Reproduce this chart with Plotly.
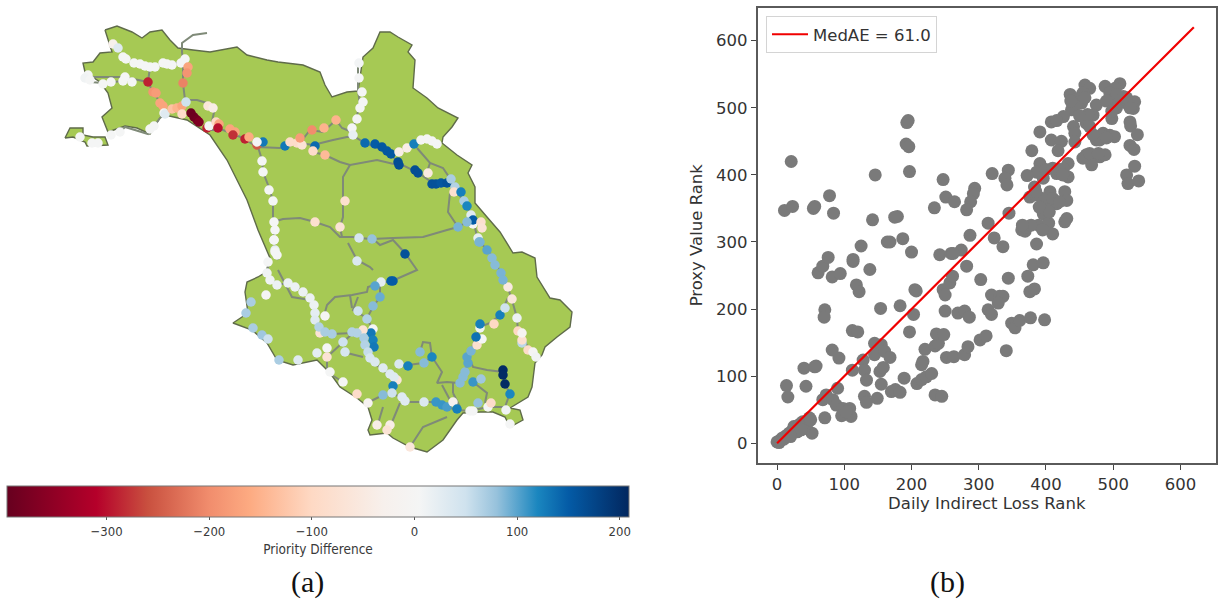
import plotly.graph_objects as go

# ---------- panel (a): map data (map units) ----------
boundary = [(105,30),(117,26),(132,32),(142,38),(150,32),(162,30),(170,40),(178,48),(193,50),(210,52),(237,47),(247,55),(267,60),(278,62),(303,65),(320,72),(325,85),(332,97),(347,92),(358,91),(363,57),(373,48),(380,32),(390,32),(398,37),(412,45),(408,52),(415,60),(413,88),(427,98),(438,108),(458,118),(452,127),(443,137),(442,143),(457,155),(472,165),(468,173),(475,187),(475,203),(487,217),(500,232),(513,253),(522,252),(535,258),(537,277),(550,298),(560,300),(572,312),(570,327),(557,337),(545,347),(542,355),(535,363),(532,387),(528,397),(510,408),(520,410),(523,420),(510,427),(505,417),(493,412),(480,412),(463,413),(457,420),(443,440),(427,452),(410,447),(393,438),(387,433),(370,435),(368,430),(372,420),(368,407),(357,398),(340,387),(330,373),(317,360),(293,365),(277,360),(267,343),(252,330),(233,323),(248,313),(245,292),(247,282),(258,277),(266,272),(270,258),(265,247),(258,230),(247,200),(227,160),(210,135),(187,120),(165,115),(160,118),(150,134),(137,128),(125,126),(108,132),(102,117),(112,108),(108,93),(100,82),(85,72),(83,63),(93,62),(100,53),(112,52),(105,30)]
island = [(65,138),(70,128),(83,128),(83,135),(93,137),(105,137),(108,145),(87,146),(85,142),(73,137),(65,138)]
roads = [
 [(182,52),(182,43),(193,35),(207,33)],
 [(182,52),(183,62),(183,83),(185,100),(197,100),(207,103),(215,108),(213,118),(210,130),(223,130),(243,138),(257,147),(280,148),(300,143),(313,145),(333,140),(347,137),(355,137),(365,143),(390,153),(398,163),(417,172),(433,183),(448,183),(455,190),(467,205),(473,220),(478,240),(490,253),(503,277),(508,288),(512,300),(517,318),(518,332),(530,350),(535,357)],
 [(85,77),(123,77),(148,82),(153,92),(162,105),(165,113),(160,118)],
 [(90,82),(103,83),(123,81)],
 [(120,132),(125,127),(148,134),(160,118)],
 [(123,58),(150,67),(183,62)],
 [(150,67),(148,82)],
 [(300,143),(310,130),(323,132),(336,120),(342,128),(352,132)],
 [(313,152),(325,155),(340,162),(350,165),(377,160),(398,165)],
 [(350,165),(343,177),(343,200),(343,217),(340,227),(342,237)],
 [(315,222),(330,227),(340,237),(353,237),(358,238),(372,239),(393,238),(423,237),(447,230),(458,227),(467,222),(473,220)],
 [(450,193),(448,212),(458,227)],
 [(417,148),(430,163),(443,168),(453,183)],
 [(430,163),(427,172)],
 [(400,152),(407,148),(415,144),(423,139),(437,143)],
 [(358,60),(358,90),(360,105),(356,118),(352,132)],
 [(258,147),(262,160),(263,172),(270,190),(273,202),(273,222),(274,230),(274,240),(275,252),(278,260)],
 [(273,222),(283,219),(300,218),(315,222)],
 [(348,243),(357,260),(370,267),(373,270)],
 [(372,238),(380,245),(393,240),(405,253),(417,270),(400,277),(392,281),(380,283),(375,285),(368,287),(367,292),(352,295),(335,297),(327,305),(324,316)],
 [(270,258),(267,273),(277,285),(288,283),(305,292),(313,305),(315,318),(320,327),(332,334),(353,333),(363,337),(367,350),(373,362),(383,370),(392,377),(393,387),(392,393),(400,397),(407,402),(423,402),(437,402),(447,407),(457,410),(470,411),(488,407),(505,407),(510,393),(505,385),(503,372),(487,370),(473,367),(470,360),(463,373),(458,383),(447,382),(437,383),(442,372),(432,357),(430,343),(423,342),(420,352)],
 [(480,327),(470,353)],
 [(508,298),(500,315),(490,323),(480,327)],
 [(400,365),(408,365),(423,363),(432,357)],
 [(367,403),(383,395),(392,393)],
 [(400,403),(390,427)],
 [(383,407),(377,427)],
 [(447,417),(423,427),(410,447)],
 [(327,347),(327,372),(343,382)],
 [(327,357),(343,342),(353,333)],
 [(343,352),(363,357)],
 [(278,270),(292,297),(310,300)],
 [(358,297),(353,310),(367,318),(373,330)],
 [(350,295),(352,308)],
 [(453,393),(460,407)],
 [(453,383),(453,393)],
 [(473,382),(487,393),(485,403)],
 [(442,385),(450,400)],
 [(380,282),(380,297),(373,307),(367,318)],
]
stations = [
 (113,44,-30),(118,48,30),(123,57,5),(126,59,5),(134,63,5),(140,64,5),(145,66,5),(150,67,5),(155,67,5),(163,63,5),(167,64,5),(172,65,5),(181,63,5),(185,59,5),
 (188,67,-170),(187,73,-190),(183,83,-210),(88,75,5),(85,78,10),(90,80,5),(103,84,5),(111,82,5),(123,81,5),(125,77,5),(132,82,5),
 (148,82,-290),(153,92,-190),(156,93,-180),(160,103,-170),(163,106,-170),(164,113,0),(165,114,30),
 (172,109,-130),(177,108,-150),(182,106,-170),(186,102,50),(182,114,-90),
 (191,113,-390),(194,117,-390),(197,120,-385),(199,122,-370),(207,128,-290),(209,126,0),(208,106,-60),(213,108,-40),
 (216,122,-100),(219,124,-170),(218,128,-300),(230,129,-170),(235,132,-170),(233,135,-280),(245,139,-290),(249,137,-160),
 (257,145,-250),(263,142,130),(257,142,0),(285,146,130),(290,142,-90),(297,143,-90),(302,145,-70),(300,138,-180),
 (315,146,140),(313,151,-90),(325,155,-140),(312,130,-200),(324,128,-150),(336,120,-150),
 (80,137,5),(92,143,5),(98,143,5),(111,135,5),(120,132,5),(150,129,5),(154,126,5),
 (262,161,5),(263,172,5),(269,190,5),(273,201,5),(274,222,5),(275,230,5),(274,240,5),(275,250,20),
 (315,222,-80),(345,201,-80),(340,227,-70),
 (352,128,5),(353,135,20),(357,119,0),(360,108,3),(363,102,3),(362,92,3),(359,78,5),(359,63,8),
 (365,143,140),(375,144,150),(382,147,155),(387,151,155),(391,154,155),(398,162,165),(399,165,165),(415,170,165),(418,173,165),
 (399,152,-40),(407,148,-40),(414,144,125),(421,140,0),(427,139,0),(432,141,0),(437,144,5),
 (428,173,-50),(432,184,160),(436,184,160),(441,183,155),(447,183,160),
 (451,179,70),(455,187,65),(454,192,-80),(461,192,125),(464,201,70),(467,206,120),(471,215,30),(473,224,5),(473,220,150),(467,222,85),(458,227,90),
 (481,222,-80),(482,228,-70),(359,238,40),(372,239,80),
 (405,254,160),(357,261,35),(391,281,150),(393,281,150),(381,282,25),(375,286,100),(380,297,95),(373,306,85),(358,311,50),(367,319,65),(373,329,0),(371,333,130),(373,340,125),(374,347,130),
 (325,316,0),
 (274,240,5),(275,252,5),(277,255,5),(268,262,5),(267,273,10),(270,280,10),(277,285,15),(288,283,15),(295,287,15),(303,292,15),(310,298,15),(314,305,15),(315,313,25),(315,320,30),(320,333,-70),(319,327,65),(325,332,70),(332,334,70),
 (266,295,0),(251,302,70),(246,313,70),(253,328,70),(262,335,75),(268,339,50),(279,360,70),(298,360,30),(317,353,25),(327,348,5),(327,357,-70),(330,372,5),(343,382,5),(357,394,-90),(368,403,-15),(377,425,-40),(390,425,-40),(387,430,-70),(410,447,-60),
 (343,342,50),(345,352,40),(363,330,-70),(352,332,65),(357,333,65),
 (364,338,70),(365,345,65),(368,352,55),(370,358,40),(375,362,35),(383,368,30),(390,374,30),(397,380,-60),(394,377,30),(393,386,125),(383,395,85),(392,393,50),(399,364,35),(408,366,125),(424,363,85),(432,357,120),(420,352,85),
 (402,397,30),(405,401,30),(424,402,35),(436,402,110),(442,405,110),(447,407,105),(453,402,-20),(457,409,125),(470,411,5),(473,411,5),(488,407,5),(478,403,80),(491,403,-90),(506,410,10),(510,424,5),
 (460,383,85),(463,377,85),(465,372,85),(468,363,100),(467,357,100),(471,351,90),(477,345,-80),(482,339,5),(476,337,135),(480,328,10),(480,324,125),(494,324,-100),(500,315,125),(505,308,50),
 (473,382,110),(481,379,75),(503,370,205),(503,375,205),(505,384,205),(510,394,120),
 (508,287,-50),(512,299,-60),(517,318,15),(518,331,-100),(522,343,60),(522,340,-80),(522,333,-10),(528,350,-90),(533,352,0),(536,357,10),
 (478,238,20),(480,242,90),(479,242,90),(487,250,100),(492,258,85),(495,265,85),(501,273,90),(503,280,90),
]
priority_ticks = [-300, -200, -100, 0, 100, 200]
priority_labels = ["\u2212300", "\u2212200", "\u2212100", "0", "100", "200"]
priority_min, priority_max = -397, 209
priority_colors = [(-397,"#67001f"),(-310,"#b5002a"),(-260,"#c9503f"),(-200,"#f18d6d"),(-160,"#fdab82"),(-100,"#fed9c4"),(-30,"#f7f0ec"),(5,"#f4f5f5"),(50,"#cfe2ee"),(80,"#97c2dc"),(120,"#1a86bf"),(150,"#045ba6"),(209,"#02275f")]

# ---------- panel (b): rank scatter ----------
ranks = [
 (14,86),(16,69),(40,112),(58,115),(56,114),(43,85),(71,38),(52,15),(71,199),(70,188),(82,139),(92,127),(90,82),(68,65),(73,72),(83,65),(88,57),(98,52),(108,52),(96,41),(110,40),(103,47),
 (112,109),(112,168),(120,166),(128,124),(130,109),(133,94),(130,70),(133,61),(149,67),(155,88),(153,107),(158,113),(145,149),(155,147),(145,132),(160,137),(168,128),(170,77),(176,80),(183,76),(189,97),(154,201),(183,205),(203,192),(197,166),(205,229),(207,227),(217,122),(215,117),(208,89),(215,95),(222,99),(230,104),(235,72),(245,70),(220,140),(235,145),(240,149),(237,163),(248,162),(252,128),(263,129),(279,132),(284,144),(250,197),(269,194),(279,197),(286,188),(247,229),(250,221),(257,239),(261,249),(282,264),(303,244),(319,221),(314,199),(319,192),(331,219),(336,219),(329,209),(344,246),(373,249),(376,226),(383,230),(302,154),(311,160),(341,138),(349,179),(354,172),(361,183),(377,187),(398,184),(381,266),(396,269),(61,254),(68,264),(82,248),(94,253),(113,271),(118,236),(122,226),(138,259),
 (0,2),(5,5),(8,8),(12,10),(15,12),(18,15),(22,18),(25,25),(28,20),(33,28),(30,17),(38,32),(40,22),(45,30),(48,38),(50,35),(36,20),(20,10),(10,6),(3,1),
 (21,420),(11,347),(23,353),(54,350),(56,353),(78,369),(84,343),(146,400),(193,478),(195,481),(192,446),(196,442),(197,405),(247,393),(251,367),(234,351),(142,333),(179,338),(175,337),(164,300),(168,300),(187,305),(200,285),(125,294),(76,277),(113,274),(242,281),(259,283),
 (458,534),(465,529),(455,522),(436,520),(448,514),(453,507),(488,532),(510,536),(503,529),(495,522),(500,512),(515,517),(520,507),(532,509),(530,499),(475,504),(470,489),(438,497),(426,487),(408,479),(416,481),(441,472),(443,462),(460,477),(465,472),(498,484),(525,479),(526,473),(536,460),(391,464),(408,452),(423,450),(443,449),(475,457),(485,462),(495,459),(502,457),(475,452),(525,444),(531,438),(379,436),(418,436),(460,430),(470,427),(480,427),(488,430),(468,415),(433,417),(426,409),(391,417),(386,404),(372,399),(416,402),(433,397),(320,402),(344,407),(339,395),(342,385),(532,413),(520,400),(522,387),(538,391),(294,380),(292,372),(264,360),(288,360),(282,348),(383,382),(376,367),(406,375),(428,375),(431,362),(416,357),(399,357),(396,342),(345,343),(314,328),(323,306),(287,310),(336,293),(386,297),(364,318),(369,316),(389,325),(404,328),(410,312),(428,330),(431,335),(274,288),(262,283),
 (455,425),(465,432),(478,432),(480,452),(490,455),(470,460),(445,505),(458,515),(462,490),(450,488),(437,510),(505,520),(510,510),(490,510),(505,500),(520,515),(525,500),(498,495),(400,408),(410,410),(420,408),(396,395),(425,400),(385,370),(395,365),(410,365),(420,360),(405,345),(385,375),(390,352),(370,322),(378,325),(395,318),(365,325),
]
line_x = [0, 620]
line_y = [0, 620]
rank_ticks = [0, 100, 200, 300, 400, 500, 600]

# ---------- figure ----------
W, H = 1221, 603
span = priority_max - priority_min
cscale = [[(v - priority_min) / span, c] for v, c in priority_colors]

def flat(polys):
    xs, ys = [], []
    for p in polys:
        xs += [q[0] for q in p] + [None]
        ys += [q[1] for q in p] + [None]
    return xs, ys

fig = go.Figure()
bx, by = flat([boundary, island])
fig.add_trace(go.Scatter(x=bx, y=by, mode="lines", fill="toself", fillcolor="#a6c954",
                         line=dict(color="#5f6b4a", width=1.4), showlegend=False, hoverinfo="skip"))
rx, ry = flat(roads)
fig.add_trace(go.Scatter(x=rx, y=ry, mode="lines", line=dict(color="#7f8a78", width=2),
                         showlegend=False, hoverinfo="skip"))
cbfont = "DejaVu Sans Condensed, DejaVu Sans"
fig.add_trace(go.Scatter(
    x=[s[0] for s in stations], y=[s[1] for s in stations], mode="markers", showlegend=False,
    marker=dict(size=9.5, color=[s[2] for s in stations], colorscale=cscale,
                cmin=priority_min, cmax=priority_max, line=dict(width=0),
                colorbar=dict(orientation="h", lenmode="pixels", len=622, thicknessmode="pixels",
                              thickness=31, x=318/W, xanchor="center", y=1-486/H, yanchor="top",
                              xpad=0, ypad=0, outlinecolor="#777777", outlinewidth=1,
                              tickvals=priority_ticks, ticktext=priority_labels,
                              ticks="outside", ticklen=3, tickcolor="#555555",
                              tickfont=dict(family=cbfont, size=13, color="#3a3a3a"),
                              title=dict(text="Priority Difference", side="bottom",
                                         font=dict(family=cbfont, size=13.5, color="#3a3a3a"))))))

fig.add_trace(go.Scatter(x=[r[0] for r in ranks], y=[r[1] for r in ranks], mode="markers",
                         xaxis="x2", yaxis="y2", showlegend=False,
                         marker=dict(size=13, color="#7a7a7a", line=dict(width=0))))
fig.add_trace(go.Scatter(x=line_x, y=line_y, mode="lines", xaxis="x2", yaxis="y2",
                         name="MedAE = 61.0", line=dict(color="#f00000", width=2.2)))

axfont = dict(family="DejaVu Sans", size=16.5, color="#333333")
fig.update_layout(
    width=W, height=H, margin=dict(l=0, r=0, t=0, b=0), paper_bgcolor="white", plot_bgcolor="white",
    xaxis=dict(domain=[0, 1], range=[0, W], visible=False, fixedrange=True),
    yaxis=dict(domain=[0, 1], range=[H, 0], visible=False, fixedrange=True),
    xaxis2=dict(domain=[757.6/W, 1216/W], range=[-29, 653], anchor="y2", tickvals=rank_ticks,
                showgrid=False, zeroline=False, showline=True, mirror=True, linecolor="#5a5a5a", linewidth=1.5,
                ticks="outside", ticklen=5, tickcolor="#444444", tickfont=axfont,
                title=dict(text="Daily Indirect Loss Rank", font=axfont, standoff=5)),
    yaxis2=dict(domain=[1-463/H, 1-7.5/H], range=[-29.4, 649.5], anchor="x2", tickvals=rank_ticks,
                showgrid=False, zeroline=False, showline=True, mirror=True, linecolor="#5a5a5a", linewidth=1.5,
                ticks="outside", ticklen=5, tickcolor="#444444", tickfont=axfont,
                title=dict(text="Proxy Value Rank", font=axfont, standoff=9)),
    legend=dict(x=766/W, y=1-16/H, xanchor="left", yanchor="top", bgcolor="rgba(255,255,255,0.8)",
                bordercolor="#d4d4d4", borderwidth=1, font=axfont, itemwidth=36),
    annotations=[
        dict(text="(a)", x=307/W, y=1-582/H, xref="paper", yref="paper", showarrow=False,
             xanchor="center", yanchor="middle",
             font=dict(family="Liberation Serif", size=30, color="#111111")),
        dict(text="(b)", x=947/W, y=1-582/H, xref="paper", yref="paper", showarrow=False,
             xanchor="center", yanchor="middle",
             font=dict(family="Liberation Serif", size=30, color="#111111")),
    ],
)
fig.write_html("out.html", config={"displayModeBar": False},
               post_script="document.body.style.margin='0';document.documentElement.style.overflow='hidden';")
